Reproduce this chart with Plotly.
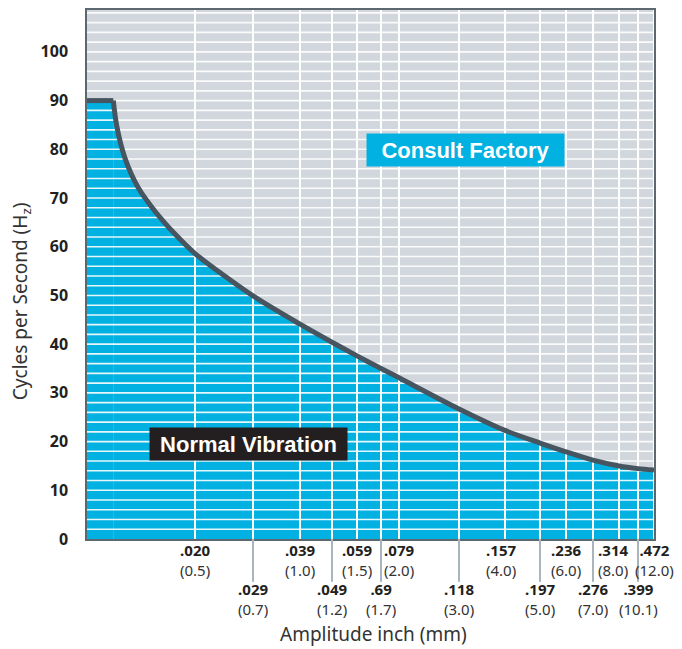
import numpy as np
import plotly.graph_objects as go

# amplitude ticks, as printed under the chart
amp_mm = [0.5, 0.7, 1.0, 1.2, 1.5, 1.7, 2.0, 3.0, 4.0, 5.0, 6.0, 7.0, 8.0, 10.1, 12.0]
amp_in = ['.020', '.029', '.039', '.049', '.059', '.69', '.079', '.118',
          '.157', '.197', '.236', '.276', '.314', '.399', '.472']

# the chart's own (hand drawn) amplitude scale: where each amplitude sits across the axis
scale_mm = [0.2] + amp_mm
scale_pos = [0.0, 0.1905, 0.2928, 0.3757, 0.4321, 0.4762, 0.5185, 0.5503, 0.6561,
             0.7372, 0.7989, 0.8448, 0.8924, 0.9383, 0.9718, 1.0]

# limit curve, frequency (Hz) vs amplitude (mm)
flat_mm = [0.2, 0.25]
flat_hz = [90, 90]
curve_mm = [0.25, 0.257, 0.276, 0.309, 0.356, 0.422, 0.5, 0.7, 1.0, 1.2, 1.5,
            1.7, 2.0, 3.0, 4.0, 5.0, 6.0, 7.0, 8.0, 10.1, 12.0]
curve_hz = [90, 85, 78.2, 72.1, 67.3, 62.6, 58.6, 49.9, 44.1, 40.4, 37.6,
            35.0, 33.1, 26.7, 22.3, 19.7, 17.9, 16.2, 15.0, 14.45, 14.15]

y_ticks = list(range(0, 101, 10))

BLUE = '#00b1e1'
GRAY = '#d1d7dd'
DARK = '#46555f'
FONT = 'Noto Sans'

# small nudges of crowded labels (pixels)
label_nudge = {4.0: -4, 8.0: -6, 12.0: 0}


def to_x(mm):
    """ Map amplitudes onto the chart's axis positions. """
    return np.interp(np.log(mm), np.log(scale_mm), scale_pos)


fig = go.Figure()

# blue "normal vibration" area
fig.add_trace(go.Scatter(
    x=to_x(flat_mm), y=flat_hz, mode='lines', fill='tozeroy', fillcolor=BLUE,
    line=dict(width=0), hoverinfo='skip'))
fig.add_trace(go.Scatter(
    x=to_x(curve_mm), y=curve_hz, mode='lines', fill='tozeroy', fillcolor=BLUE,
    line=dict(width=0, shape='spline', smoothing=0.8), hoverinfo='skip'))

# white grid on top of the fill
gx, gy = [], []
for v in to_x(amp_mm):
    gx += [v, v, None]
    gy += [0, 110, None]
fig.add_trace(go.Scatter(x=gx, y=gy, mode='lines', line=dict(color='white', width=2),
                         hoverinfo='skip'))
hx, hy = [], []
for h in np.arange(2, 109, 2):
    hx += [0, 1, None]
    hy += [h, h, None]
fig.add_trace(go.Scatter(x=hx, y=hy, mode='lines',
                         line=dict(color='rgba(255,255,255,0.9)', width=1.6),
                         hoverinfo='skip'))

# limit curve
fig.add_trace(go.Scatter(
    x=to_x(flat_mm), y=flat_hz, mode='lines',
    line=dict(color=DARK, width=5), hoverinfo='skip'))
fig.add_trace(go.Scatter(
    x=to_x(curve_mm), y=curve_hz, mode='lines',
    line=dict(color=DARK, width=5, shape='spline', smoothing=0.8), hoverinfo='skip'))

# amplitude labels, alternating upper / lower row
for i, (mm, inch) in enumerate(zip(amp_mm, amp_in)):
    xv = float(to_x(mm))
    lower = i % 2 == 1
    fig.add_annotation(x=xv, y=-0.113 if lower else -0.0395, xref='x', yref='paper',
                       text='<b>' + inch + '</b><br><span style="color:#333333">(' + str(mm) + ')</span>',
                       showarrow=False, font=dict(family=FONT, size=15, color='#231f20'),
                       xanchor='center', yanchor='middle', xshift=label_nudge.get(mm, 0))
    if lower:
        fig.add_shape(type='line', xref='x', yref='paper', x0=xv, x1=xv, y0=0, y1=-0.081,
                      line=dict(color='#a9b5bd', width=2))

# region labels
fig.add_annotation(x=0.668, y=0.735, xref='paper', yref='paper', text='<b>Consult Factory</b>',
                   showarrow=False, bgcolor=BLUE, width=197, height=32, borderpad=0,
                   xanchor='center', yanchor='middle',
                   font=dict(family='Liberation Sans', size=22, color='white'))
fig.add_annotation(x=0.284, y=0.180, xref='paper', yref='paper', text='<b>Normal Vibration</b>',
                   showarrow=False, bgcolor='#231f20', width=197, height=32, borderpad=0,
                   xanchor='center', yanchor='middle',
                   font=dict(family='Liberation Sans', size=22, color='white'))

# axis titles
fig.add_annotation(x=0.506, y=-0.179, xref='paper', yref='paper', text='Amplitude inch (mm)',
                   showarrow=False, font=dict(family=FONT, size=19, color='#333333'),
                   xanchor='center', yanchor='middle')
fig.add_annotation(x=-0.116, y=0.450, xref='paper', yref='paper',
                   text='Cycles per Second (H<sub>z</sub>)', textangle=-90,
                   showarrow=False, font=dict(family=FONT, size=19, color='#333333'),
                   xanchor='center', yanchor='middle')

fig.update_xaxes(range=[0, 1], showticklabels=False, showgrid=False, zeroline=False,
                 showline=True, mirror=True, linecolor='#5c6770', linewidth=1.5, ticks='')
fig.update_yaxes(range=[0, 108.6], tickvals=y_ticks, showgrid=False, zeroline=False,
                 showline=True, mirror=True, linecolor='#5c6770', linewidth=1.5, ticks='',
                 ticklabelstandoff=14,
                 tickfont=dict(family=FONT, size=16, color='#231f20', weight='bold'))
# the page adds an 8px body margin, so the figure is sized to fit the window
fig.update_layout(
    width=674, height=641,
    margin=dict(l=79, r=28, t=0, b=110),
    plot_bgcolor=GRAY, paper_bgcolor='white',
    showlegend=False,
)

fig.write_html("out.html")
